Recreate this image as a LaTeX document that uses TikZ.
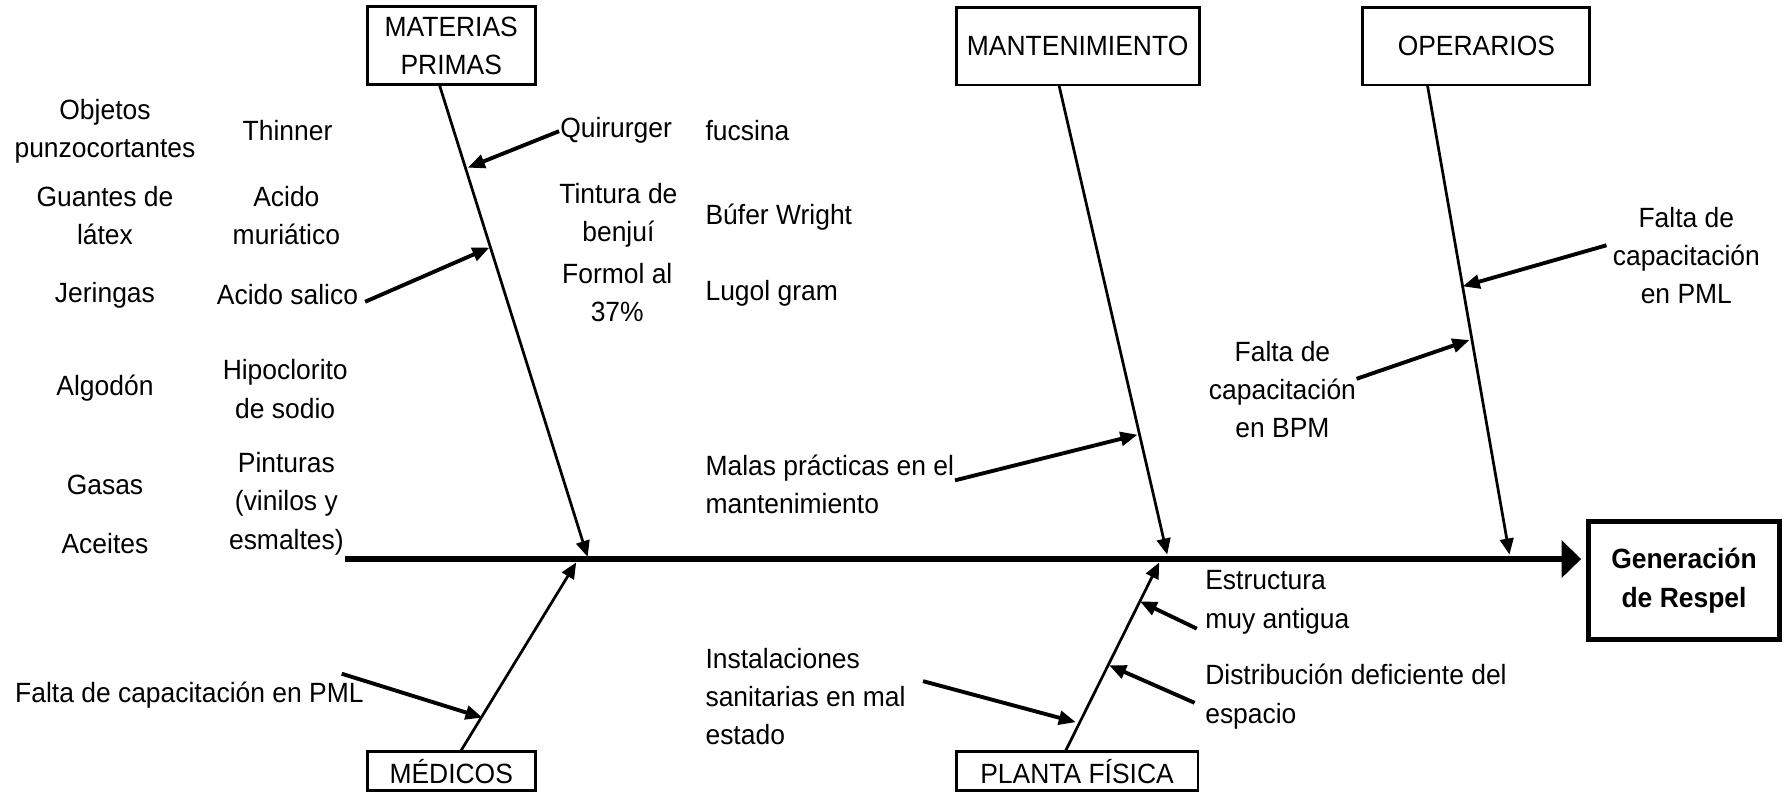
\documentclass[tikz,border=0pt]{standalone}
\usepackage{fontspec}
\setmainfont{Liberation Sans}[FakeStretch=0.95]
\usetikzlibrary{arrows.meta}
\begin{document}
\begin{tikzpicture}[x=0.5pt,y=-0.5pt,
  txt/.style={font=\fontsize{12.2}{16.75}\selectfont, inner sep=0pt, align=center},
  txtl/.style={txt, align=left, anchor=west},
  cat/.style={draw, line width=1.3pt, font=\fontsize{12.2}{16.75}\selectfont, align=center, inner sep=0pt},
  effect/.style={draw, line width=2.2pt, font=\bfseries\fontsize{12.2}{16.75}\selectfont, align=center, inner sep=0pt},
  bone/.style={line width=1.2pt, -{Triangle[length=7pt,width=6pt]}},
  cause/.style={line width=1.7pt, -{Triangle[length=7.5pt,width=6pt]}},
  spine/.style={line width=3pt, -{Triangle[length=8.5pt,width=16pt]}},
]
\useasboundingbox (0,0) rectangle (1568,694);

% category boxes
\node[cat, minimum width=73.5pt, minimum height=34pt] (mp) at (395.5,40) {MATERIAS\\PRIMAS};
\node[cat, minimum width=106.5pt, minimum height=34pt] (mant) at (944.5,40.5) {MANTENIMIENTO};
\node[cat, minimum width=99.5pt, minimum height=34pt] (oper) at (1294,40.5) {OPERARIOS};
\node[cat, minimum width=73.5pt, minimum height=17pt] (med) at (395.5,676) {MÉDICOS};
\node[cat, minimum width=106pt, minimum height=17pt] (planta) at (944,676) {PLANTA FÍSICA};
\node[effect, minimum width=84pt, minimum height=51.75pt] (gen) at (1476,509) {Generación\\de Respel};

% spine
\coordinate (s0) at (302,490);
\draw[spine] (s0) -- ([xshift=-2pt]s0 -| gen.west);

% main bones
\coordinate (b1a) at (385,74);   \coordinate (b1b) at (515,488);
\coordinate (b2a) at (928,74);   \coordinate (b2b) at (1023,486);
\coordinate (b3a) at (1251,74);  \coordinate (b3b) at (1323,486);
\coordinate (b4a) at (404,658);  \coordinate (b4b) at (505,493);
\coordinate (b5a) at (934,658);  \coordinate (b5b) at (1016,493);
\draw[bone] (b1a) -- (b1b);
\draw[bone] (b2a) -- (b2b);
\draw[bone] (b3a) -- (b3b);
\draw[bone] (b4a) -- (b4b);
\draw[bone] (b5a) -- (b5b);

% materias primas: list of items
\node[txt] (t1) at (92,115) {Objetos\\punzocortantes};
\node[txt] (t2) at (92,189) {Guantes de\\látex};
\node[txt] (t3) at (92,258.5) {Jeringas};
\node[txt] (t4) at (92,340) {Algodón};
\node[txt] (t5) at (92,425) {Gasas};
\node[txt] (t6) at (92,476) {Aceites};
\node[txt] (u1) at (252,114) {Thinner};
\node[txt] (u2) at (251,189) {Acido\\muriático};
\node[txt] (u3) at (252,258.5) {Acido salico};
\node[txt] (u4) at (250,341) {Hipoclorito\\de sodio};
\node[txt] (u5) at (251,441.5) {Pinturas\\(vinilos y\\esmaltes)};
\node[txt] (v1) at (540,114) {Quirurger};
\node[txt] (v2) at (542,189) {Tintura de\\benjuí};
\node[txt] (v3) at (541,256.5) {Formol al\\37\%};
\node[txtl] (w1) at (618,114) {fucsina};
\node[txtl] (w2) at (618,190) {Búfer Wright};
\node[txtl] (w3) at (618,257) {Lugol gram};

% other causes
\node[txtl] (malas) at (618,424.5) {Malas prácticas en el\\mantenimiento};
\node[txtl] (inst) at (618,610.5) {Instalaciones\\sanitarias en mal\\estado};
\node[txtl] (estr) at (1056,528) {Estructura\\muy antigua};
\node[txtl] (dist) at (1056,610.5) {Distribución deficiente del\\espacio};
\node[txt] (pmlm) at (166,609) {Falta de capacitación en PML};
\node[txt] (pmlo) at (1478,224) {Falta de\\capacitación\\en PML};
\node[txt] (bpm) at (1124,341.5) {Falta de\\capacitación\\en BPM};

% cause arrows
\coordinate (c1a) at (490,115);   \coordinate (c1b) at (410,147);
\coordinate (c2a) at (320,264.5); \coordinate (c2b) at (429,217);
\coordinate (c3a) at (299.5,590.5); \coordinate (c3b) at (423,629);
\coordinate (c4a) at (837,421);   \coordinate (c4b) at (997,381);
\coordinate (c5a) at (809,597);   \coordinate (c5b) at (943,633);
\coordinate (c6a) at (1049,551);  \coordinate (c6b) at (999,527);
\coordinate (c7a) at (1047,616);  \coordinate (c7b) at (972,583);
\coordinate (c8a) at (1408,215);  \coordinate (c8b) at (1282,251);
\coordinate (c9a) at (1189,332);  \coordinate (c9b) at (1288,298);
\foreach \i in {1,...,9} {\draw[cause] (c\i a) -- (c\i b);}
\end{tikzpicture}
\end{document}
